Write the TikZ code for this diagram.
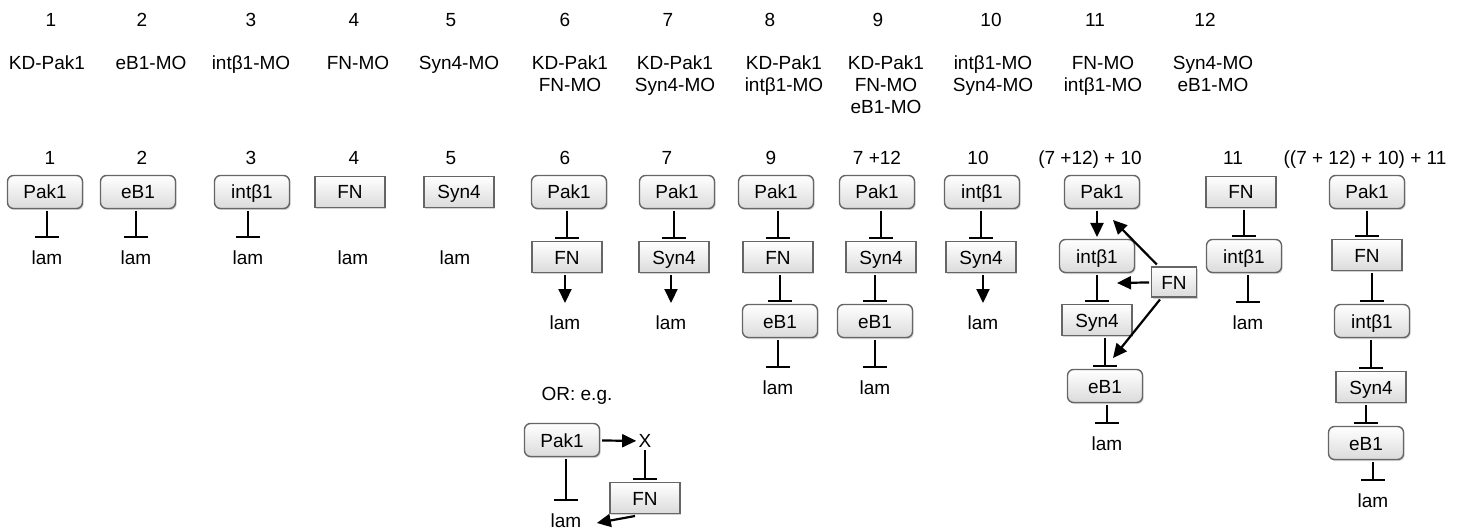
\documentclass[tikz,border=0pt]{standalone}
\usepackage{fontspec}
\setmainfont{Liberation Sans}
\usetikzlibrary{arrows.meta, shadows}

\begin{document}
\begin{tikzpicture}[
		x=1pt, y=-1pt,
		font=\fontsize{19}{22}\selectfont,
		rbox/.style={draw=black!60, line width=1.4pt, rounded corners=6pt,
			top color=white, bottom color=black!14,
			minimum width=75pt, minimum height=33pt, inner sep=0pt, outer sep=2.5pt,
			text height=14pt, text depth=0pt,
			drop shadow={shadow xshift=1.2pt, shadow yshift=-1.5pt, opacity=.35}},
		sbox/.style={rbox, sharp corners, minimum width=70pt, minimum height=31pt},
		lam/.style={inner xsep=0pt, inner ysep=9.5pt, outer sep=2.5pt,
			text height=14pt, text depth=0pt},
		num/.style={anchor=base, inner sep=0pt},
		lbl/.style={anchor=north, align=center, inner sep=0pt},
		inh/.style={-{Bar[width=24pt]}, line width=2.2pt},
		act/.style={-{Triangle[length=14pt, width=13pt]}, line width=2.2pt}
		]

		\useasboundingbox (0,0) rectangle (1463,529);

		% treatments
		\node[num] (n1) at (51,27) {1};
		\node[num] (n2) at (142,27) {2};
		\node[num] (n3) at (251,27) {3};
		\node[num] (n4) at (354,27) {4};
		\node[num] (n5) at (451,27) {5};
		\node[num] (n6) at (565,27) {6};
		\node[num] (n7) at (668,27) {7};
		\node[num] (n8) at (770,27) {8};
		\node[num] (n9) at (878,27) {9};
		\node[num] (n10) at (991,27) {10};
		\node[num] (n11) at (1095,27) {11};
		\node[num] (n12) at (1205,27) {12};

		\node[lbl] (t1) at (47,56) {KD-Pak1};
		\node[lbl] (t2) at (151,56) {eB1-MO};
		\node[lbl] (t3) at (251,56) {intβ1-MO};
		\node[lbl] (t4) at (358,56) {FN-MO};
		\node[lbl] (t5) at (459,56) {Syn4-MO};
		\node[lbl] (t6) at (570,56) {KD-Pak1\\FN-MO};
		\node[lbl] (t7) at (675,56) {KD-Pak1\\Syn4-MO};
		\node[lbl] (t8) at (784,56) {KD-Pak1\\intβ1-MO};
		\node[lbl] (t9) at (886,56) {KD-Pak1\\FN-MO\\eB1-MO};
		\node[lbl] (t10) at (993,56) {intβ1-MO\\Syn4-MO};
		\node[lbl] (t11) at (1103,56) {FN-MO\\intβ1-MO};
		\node[lbl] (t12) at (1213,56) {Syn4-MO\\eB1-MO};

		% pathways
		\node[num] (h1) at (50,165) {1};
		\node[num] (h2) at (142,165) {2};
		\node[num] (h3) at (251,165) {3};
		\node[num] (h4) at (354,165) {4};
		\node[num] (h5) at (451,165) {5};
		\node[num] (h6) at (565,165) {6};
		\node[num] (h7) at (667,165) {7};
		\node[num] (h9) at (771,165) {9};
		\node[num] (h712) at (877,165) {7 +12};
		\node[num] (h10) at (978,165) {10};
		\node[num] (hsum) at (1090,165) {(7 +12) + 10};
		\node[num] (h11) at (1233,165) {11};
		\node[num] (hall) at (1365,165) {((7 + 12) + 10) + 11};

		\node[rbox] (pakA) at (45,192) {Pak1};
		\node[lam] (lamA) at (47,257) {lam};

		\node[rbox] (ebB) at (138,192) {eB1};
		\node[lam] (lamB) at (136,257) {lam};

		\node[rbox] (intC) at (252,192) {intβ1};
		\node[lam] (lamC) at (248,257) {lam};

		\node[sbox] (fnD) at (350,192) {FN};
		\node[lam] (lamD) at (353,257) {lam};

		\node[sbox] (synE) at (459,192) {Syn4};
		\node[lam] (lamE) at (455,257) {lam};

		\node[rbox] (pakF) at (569,192) {Pak1};
		\node[sbox] (fnF) at (567,257) {FN};
		\node[lam] (lamF) at (565,322) {lam};

		\node[rbox] (pakG) at (677,192) {Pak1};
		\node[sbox] (synG) at (674,257) {Syn4};
		\node[lam] (lamG) at (671,322) {lam};

		\node[rbox] (pakH) at (776,192) {Pak1};
		\node[sbox] (fnH) at (778,257) {FN};
		\node[rbox] (ebH) at (780,321) {eB1};
		\node[lam] (lamH) at (778,387) {lam};

		\node[rbox] (pakI) at (877,192) {Pak1};
		\node[sbox] (synI) at (881,257) {Syn4};
		\node[rbox] (ebI) at (875,321) {eB1};
		\node[lam] (lamI) at (875,387) {lam};

		\node[rbox] (intJ) at (982,192) {intβ1};
		\node[sbox] (synJ) at (981,257) {Syn4};
		\node[lam] (lamJ) at (983,322) {lam};

		\node[rbox] (pakK) at (1102,192) {Pak1};
		\node[rbox] (intK) at (1097,256) {intβ1};
		\node[sbox] (synK) at (1097,320) {Syn4};
		\node[rbox] (ebK) at (1105,386) {eB1};
		\node[lam] (lamK) at (1107,443) {lam};
		\node[sbox, minimum width=45pt, minimum height=30pt] (fnK) at (1174,282) {FN};
		\coordinate (fnhitA) at (1113,220);
		\coordinate (fnhitB) at (1117,283);
		\coordinate (fnhitC) at (1113,358);

		\node[sbox] (fnL) at (1241,192) {FN};
		\node[rbox] (intL) at (1244,256) {intβ1};
		\node[lam] (lamL) at (1248,322) {lam};

		\node[rbox] (pakM) at (1367,192) {Pak1};
		\node[sbox] (fnM) at (1367,255) {FN};
		\node[rbox] (intM) at (1372,321) {intβ1};
		\node[sbox] (synM) at (1371,387) {Syn4};
		\node[rbox] (ebM) at (1366,443) {eB1};
		\node[lam] (lamM) at (1373,500) {lam};

		% alternative
		\node[num] (orlbl) at (577,400) {OR: e.g.};
		\node[rbox] (pakN) at (562,440) {Pak1};
		\node[inner sep=0pt, outer sep=2.5pt] (xN) at (645,441) {X};
		\node[sbox] (fnN) at (645,498) {FN};
		\node[lam] (lamN) at (566,520) {lam};

		\foreach \a/\b in {pakA/lamA, ebB/lamB, intC/lamC, pakF/fnF, pakG/synG,
			pakH/fnH, fnH/ebH, ebH/lamH, pakI/synI, synI/ebI, ebI/lamI, intJ/synJ,
			intK/synK, synK/ebK, ebK/lamK, fnL/intL, intL/lamL, pakM/fnM, fnM/intM,
			intM/synM, synM/ebM, ebM/lamM, pakN/lamN, xN/fnN} {
			\draw[inh] (\a.south -| \b) -- (\b.north);
		}

		\foreach \a/\b in {fnF/lamF, synG/lamG, synJ/lamJ, pakK/intK} {
			\draw[act] (\a.south -| \b) -- (\b.north);
		}

		\foreach \c in {fnhitA, fnhitB, fnhitC} {
			\draw[act] (fnK) -- (\c);
		}
		\draw[act] (pakN) -- (xN);
		\draw[act] ([xshift=-10pt]fnN.south) -- ([xshift=13pt, yshift=-3pt]lamN.east);

	\end{tikzpicture}
\end{document}
